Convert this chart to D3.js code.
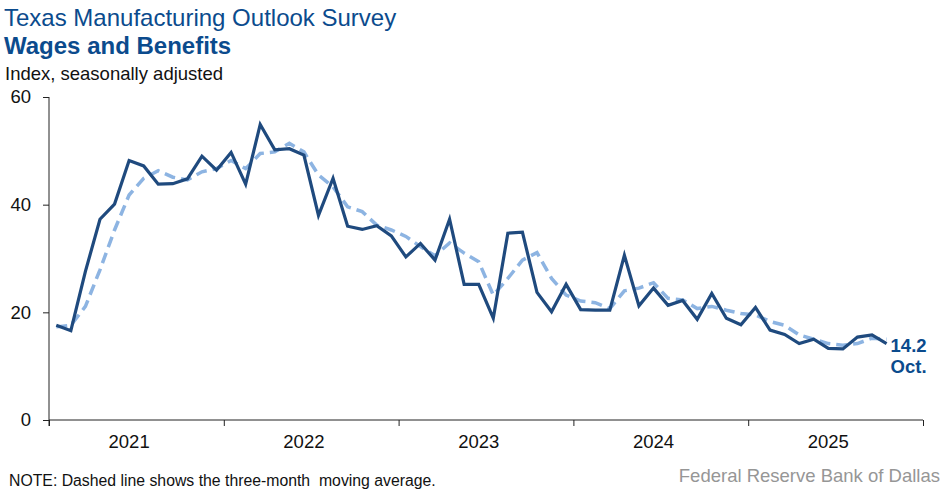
<!DOCTYPE html>
<html>
<head>
<meta charset="utf-8">
<script src="https://cdn.jsdelivr.net/npm/d3@7"></script>
<style>
    body { margin: 0; background: #fff; }
    svg text { font-family: Arial, "Liberation Sans", sans-serif; }
</style>
</head>
<body>
<div id="chart"></div>
<script>
// Monthly index, Jan 2021 - Oct 2025
const startYear = 2021;
const years = [2021, 2022, 2023, 2024, 2025];
const yTicks = [0, 20, 40, 60];
const wages = [17.6, 16.6, 27.6, 37.3, 40.1, 48.2, 47.2, 43.8, 43.9, 44.8,
    49.0, 46.4, 49.7, 43.8, 54.9, 50.2, 50.4, 49.2, 38.0, 44.9,
    36.0, 35.4, 36.1, 34.2, 30.3, 32.8, 29.7, 37.3, 25.2, 25.2,
    18.9, 34.7, 34.9, 23.7, 20.1, 25.2, 20.5, 20.4, 20.4, 30.6,
    21.2, 24.5, 21.3, 22.2, 18.7, 23.5, 18.9, 17.7, 20.9, 16.7,
    15.9, 14.2, 15.0, 13.3, 13.2, 15.4, 15.8, 14.2];
// three-month moving average (dashed)
const movingAvg = [17.3, 17.6, 21.1, 27.9, 35.3, 41.8, 44.9, 46.3, 45.1, 44.6,
    46.1, 46.7, 48.2, 46.7, 49.5, 49.8, 51.4, 49.8, 45.5, 43.3,
    39.6, 38.7, 36.2, 35.3, 34.1, 32.2, 30.5, 32.9, 31.0, 29.4,
    23.2, 26.3, 29.7, 31.1, 26.3, 23.2, 22.1, 21.8, 20.7, 24.0,
    24.5, 25.5, 22.6, 22.3, 20.7, 21.1, 20.4, 19.8, 19.5, 18.3,
    17.6, 15.8, 15.0, 14.2, 13.9, 14.2, 15.2, 15.0];
const lastLabel = ["14.2", "Oct."];

const width = 949, height = 493;
const navy = "#1f4a7e", light = "#8db4e2", titleBlue = "#0b4b8d";

const svg = d3.select("#chart").append("svg")
    .attr("width", width)
    .attr("height", height);

// month index scale: 0 = start of Jan 2021, 60 = end of Dec 2025
const x = d3.scaleLinear().domain([0, years.length * 12]).range([49, 923]);
const y = d3.scaleLinear().domain([0, 60]).range([420, 97]);

// titles
svg.append("text").attr("x", 4).attr("y", 26)
    .attr("fill", titleBlue).style("font-size", "24px")
    .text("Texas Manufacturing Outlook Survey");
svg.append("text").attr("x", 4).attr("y", 54)
    .attr("fill", titleBlue).style("font-size", "24px").style("font-weight", "bold")
    .text("Wages and Benefits");
svg.append("text").attr("x", 5).attr("y", 80)
    .attr("fill", "#111").style("font-size", "18.5px")
    .text("Index, seasonally adjusted");

// y axis
let yAxis = svg.append("g")
    .attr("transform", "translate(49,0)")
    .call(d3.axisLeft(y).tickValues(yTicks).tickSize(6).tickPadding(12));
yAxis.select(".domain").attr("d", "M0," + y(60) + "V" + (y(0) + 6));
yAxis.selectAll("text").style("font-size", "18.5px").attr("fill", "#111");

// x axis, ticks at year boundaries
let xAxis = svg.append("g")
    .attr("transform", "translate(0," + y(0) + ")")
    .call(d3.axisBottom(x).tickValues(d3.range(0, years.length * 12 + 1, 12))
        .tickSize(6).tickFormat(""));
xAxis.select(".domain").attr("d", "M" + x(0) + ",0H" + x(60));

svg.selectAll(".yearLabel").data(years).enter()
    .append("text")
    .attr("class", "yearLabel")
    .attr("x", (d, i) => x(i * 12 + 5.5))
    .attr("y", y(0) + 28)
    .attr("text-anchor", "middle")
    .attr("fill", "#111")
    .style("font-size", "18.5px")
    .text(d => d);

svg.selectAll(".domain, .tick line").attr("stroke", "#222");

// lines
let line = d3.line().x((d, i) => x(i + 0.5)).y(d => y(d));

svg.append("path").datum(movingAvg)
    .attr("d", line)
    .attr("fill", "none")
    .attr("stroke", light)
    .attr("stroke-width", 3.5)
    .attr("stroke-dasharray", "11,6");

svg.append("path").datum(wages)
    .attr("d", line)
    .attr("fill", "none")
    .attr("stroke", navy)
    .attr("stroke-width", 3.2)
    .attr("stroke-linejoin", "miter");

// last value label
let n = wages.length - 1;
svg.selectAll(".lastLabel").data(lastLabel).enter()
    .append("text")
    .attr("class", "lastLabel")
    .attr("x", x(n + 0.5) + 4)
    .attr("y", (d, i) => y(wages[n]) + 8 + i * 21)
    .attr("fill", titleBlue)
    .style("font-size", "18.5px")
    .style("font-weight", "bold")
    .text(d => d);

// footer
svg.append("text").attr("x", 9).attr("y", 486)
    .attr("fill", "#111").style("font-size", "15.8px")
    .text("NOTE: Dashed line shows the three-month  moving average.")
    .attr("xml:space", "preserve").style("white-space", "pre");
svg.append("text").attr("x", 940).attr("y", 482)
    .attr("text-anchor", "end")
    .attr("fill", "#969696").style("font-size", "18.5px")
    .text("Federal Reserve Bank of Dallas");
</script>
</body>
</html>
